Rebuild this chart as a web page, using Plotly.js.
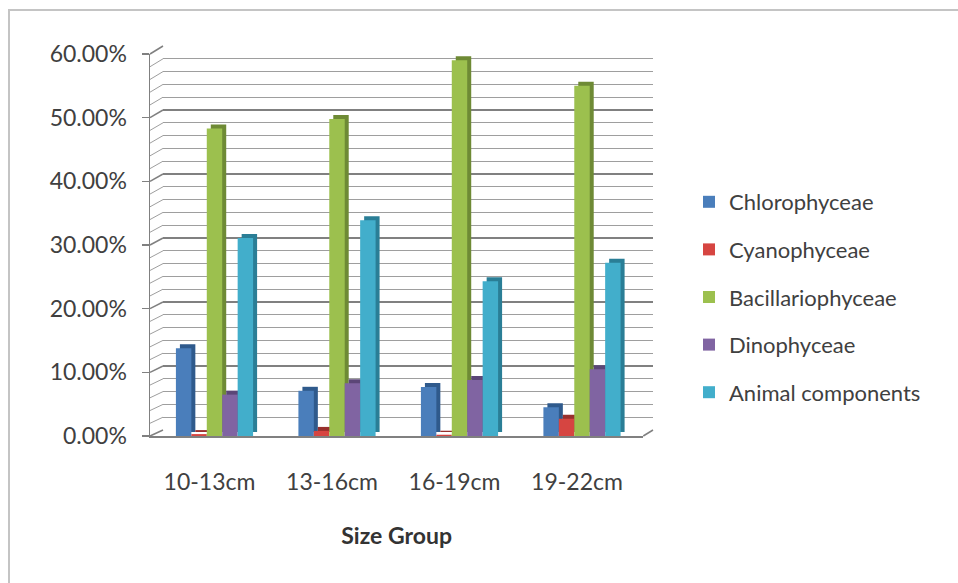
<!DOCTYPE html>
<html>
<head>
<meta charset="utf-8">
<script src="https://cdn.plot.ly/plotly-3.0.1.min.js"></script>
<style>html,body{margin:0;padding:0;background:#fff;}#chart{width:958px;height:583px;}</style>
</head>
<body>
<div id="chart"></div>
<script>
// ---- data ----
const categories = ['10-13cm', '13-16cm', '16-19cm', '19-22cm'];
const seriesNames = ['Chlorophyceae', 'Cyanophyceae', 'Bacillariophyceae', 'Dinophyceae', 'Animal components'];
const chlorophyceae = [0.138, 0.071, 0.077, 0.045];
const cyanophyceae = [0.003, 0.008, 0.002, 0.027];
const bacillariophyceae = [0.483, 0.498, 0.590, 0.550];
const dinophyceae = [0.065, 0.083, 0.088, 0.105];
const animalComponents = [0.311, 0.339, 0.243, 0.272];
const yTickValues = [0, 0.1, 0.2, 0.3, 0.4, 0.5, 0.6];

// ---- styling ----
const seriesValues = [chlorophyceae, cyanophyceae, bacillariophyceae, dinophyceae, animalComponents];
const frontColors = ['#4A7EBB', '#D64541', '#9CC04E', '#8064A2', '#42AECB'];
const sideColors = ['#2F5A8C', '#98302D', '#6E8A35', '#5B4677', '#2A7E96'];
const W = 958, H = 583;
const fx = px => px / W;
const fy = py => 1 - py / H;
const FONT = 'Lato, "Open Sans", sans-serif';
const TXT = '#404040';
const MAJOR = '#808080', MINOR = '#9e9e9e';

// geometry (pixels)
const front = {left: 150, right: 643.25, bottom: 436, top: 54};
const back = {left: 163, right: 653, bottom: 430, top: 46};
const depth = 4;
const xRange = [-0.5 - 3.25 / 122.5, categories.length - 0.5];

const traces = [];
// empty trace so that the back-wall subplot (gridlines) is drawn
traces.push({type: 'scatter', x: [], y: [], xaxis: 'x', yaxis: 'y', showlegend: false, hoverinfo: 'skip'});
seriesValues.forEach((vals, i) => {
  traces.push({
    type: 'bar', x: categories, y: vals, xaxis: 'x2', yaxis: 'y2',
    marker: {color: sideColors[i]}, showlegend: false, hoverinfo: 'skip'
  });
});
seriesValues.forEach((vals, i) => {
  traces.push({
    type: 'bar', x: categories, y: vals, xaxis: 'x3', yaxis: 'y3',
    name: seriesNames[i], legendgroup: 'g' + i,
    marker: {color: frontColors[i]}
  });
});

// left wall slanted lines + floor edge + outer frame (decoration)
const shapes = [];
for (let k = 0; k <= 30; k++) {
  const v = k * 0.02;
  const yF = front.bottom - v / 0.6 * (front.bottom - front.top);
  const yB = back.bottom - v / 0.6 * (back.bottom - back.top);
  shapes.push({type: 'line', xref: 'paper', yref: 'paper',
    x0: fx(front.left), y0: fy(yF), x1: fx(back.left), y1: fy(yB),
    line: {color: k % 5 === 0 ? MAJOR : MINOR, width: k % 5 === 0 ? 1.5 : 1}});
}
shapes.push({type: 'line', xref: 'paper', yref: 'paper',
  x0: fx(front.right), y0: fy(front.bottom), x1: fx(back.right), y1: fy(back.bottom),
  line: {color: MAJOR, width: 1.5}});
shapes.push({type: 'rect', xref: 'paper', yref: 'paper',
  x0: fx(9), y0: fy(10), x1: fx(990), y1: fy(620),
  line: {color: '#c4c4c4', width: 2}, fillcolor: 'rgba(0,0,0,0)', layer: 'below'});

const layout = {
  width: W, height: H,
  margin: {l: 0, r: 0, t: 0, b: 0},
  paper_bgcolor: '#ffffff', plot_bgcolor: 'rgba(0,0,0,0)',
  font: {family: FONT, color: TXT, size: 22},
  barmode: 'group', bargap: 0.37, bargroupgap: 0,
  showlegend: true,
  legend: {x: fx(689), xanchor: 'left', y: fy(181), yanchor: 'top',
    font: {family: FONT, size: 22, color: TXT}, tracegroupgap: 16,
    bgcolor: 'rgba(0,0,0,0)'},
  // back wall with gridlines
  xaxis: {domain: [fx(back.left), fx(back.right)], range: [0, 1], showgrid: false,
    zeroline: false, showticklabels: false, ticks: '', showline: false, fixedrange: true},
  yaxis: {domain: [fy(back.bottom), fy(back.top)], range: [0, 0.6], anchor: 'x',
    tickvals: yTickValues, showgrid: true, gridcolor: MAJOR, gridwidth: 2,
    minor: {dtick: 0.02, showgrid: true, gridcolor: MINOR, gridwidth: 1},
    zeroline: false, showticklabels: false, ticks: '', showline: false},
  // bar side faces (depth)
  xaxis2: {domain: [fx(front.left + depth), fx(front.right + depth)], range: xRange,
    type: 'category', anchor: 'y2', visible: false},
  yaxis2: {domain: [fy(front.bottom - depth), fy(front.top - depth)], range: [0, 0.6],
    anchor: 'x2', visible: false},
  // front faces with axes
  xaxis3: {domain: [fx(front.left), fx(front.right)], range: xRange, type: 'category',
    anchor: 'y3', showline: true, linecolor: MAJOR, linewidth: 1.5, ticks: '',
    showgrid: false, zeroline: false,
    tickfont: {family: FONT, size: 23, color: TXT}, ticklabelstandoff: 25, ticklabelshift: -5,
    title: {text: 'Size Group', font: {family: FONT, size: 23, color: '#333', weight: 'bold'}, standoff: 34}},
  yaxis3: {domain: [fy(front.bottom), fy(front.top)], range: [0, 0.6], anchor: 'x3',
    tickvals: yTickValues, tickformat: '.2%', showline: true, linecolor: MAJOR, linewidth: 1.5,
    ticks: 'outside', ticklen: 7, tickcolor: MAJOR, tickwidth: 1.5,
    showgrid: false, zeroline: false, ticklabelstandoff: 10,
    tickfont: {family: FONT, size: 23, color: TXT}},
  shapes: shapes
};

Plotly.newPlot('chart', traces, layout, {staticPlot: true, displayModeBar: false});
</script>
</body>
</html>
